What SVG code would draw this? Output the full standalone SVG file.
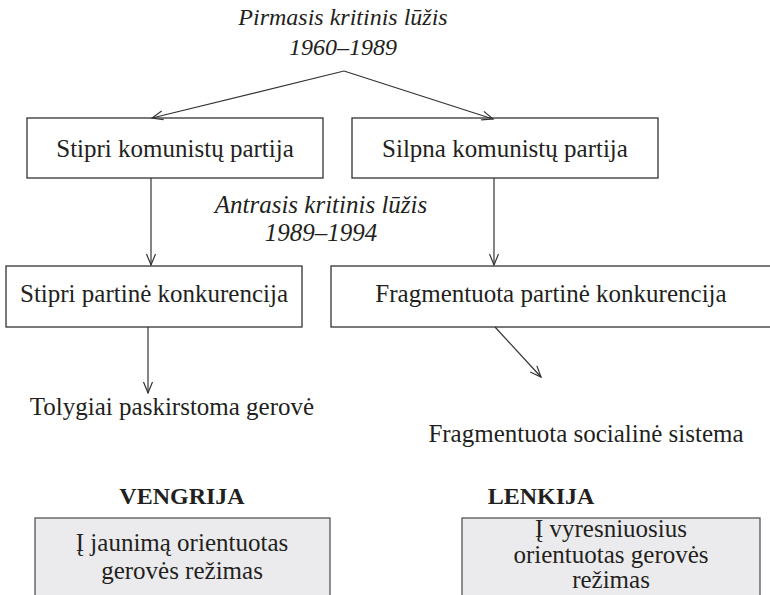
<svg xmlns="http://www.w3.org/2000/svg" width="770" height="595" viewBox="0 0 770 595">
<defs>
<style>
text{font-family:"Liberation Serif","Times New Roman",serif;fill:#231f20;text-anchor:middle}
.t{font-size:25px}
.i{font-size:24px;font-style:italic}
.i2{font-size:25px;font-style:italic}
.b{font-size:24px;font-weight:bold}
.box{fill:#fff;stroke:#333;stroke-width:1.3}
.gbox{fill:#ebebed;stroke:#555;stroke-width:1.3}
.c{fill:none;stroke:#333;stroke-width:1.2;marker-end:url(#arr)}
</style>
<marker id="arr" viewBox="-12 -6 14 12" markerWidth="14" markerHeight="12" refX="0" refY="0" orient="auto" markerUnits="userSpaceOnUse">
<path d="M-11,-4.5 L0,0 L-11,4.5" fill="none" stroke="#333" stroke-width="1.2"/>
</marker>
</defs>
<rect width="770" height="595" fill="#fff"/>
<g id="crit1">
<text class="i" x="343" y="25">Pirmasis kritinis lūžis</text>
<text class="i" x="343" y="55">1960–1989</text>
</g>
<g id="crit2">
<text class="i2" x="321" y="213">Antrasis kritinis lūžis</text>
<text class="i2" x="321" y="241">1989–1994</text>
</g>
<g id="strong-cp">
<rect class="box" x="27" y="118" width="296" height="60"/>
<text class="t" x="175" y="157">Stipri komunistų partija</text>
</g>
<g id="weak-cp">
<rect class="box" x="352" y="118" width="306" height="60"/>
<text class="t" x="505" y="157">Silpna komunistų partija</text>
</g>
<g id="strong-comp">
<rect class="box" x="6" y="266" width="296" height="61"/>
<text class="t" x="154" y="302">Stipri partinė konkurencija</text>
</g>
<g id="frag-comp">
<rect class="box" x="331" y="266" width="445" height="61"/>
<text class="t" x="551" y="302">Fragmentuota partinė konkurencija</text>
</g>
<g id="even-welfare">
<text class="t" x="172" y="415">Tolygiai paskirstoma gerovė</text>
</g>
<g id="frag-social">
<text class="t" x="586" y="442">Fragmentuota socialinė sistema</text>
</g>
<g id="hungary">
<text class="b" x="182" y="504">VENGRIJA</text>
<rect class="gbox" x="35" y="518" width="295" height="90"/>
<text class="t" x="182" y="551">Į jaunimą orientuotas</text>
<text class="t" x="182" y="579">gerovės režimas</text>
</g>
<g id="poland">
<text class="b" x="541" y="504">LENKIJA</text>
<rect class="gbox" x="462" y="518" width="298" height="90"/>
<text class="t" x="611" y="537">Į vyresniuosius</text>
<text class="t" x="611" y="563">orientuotas gerovės</text>
<text class="t" x="611" y="588">režimas</text>
</g>
<g id="connectors">
<path class="c" d="M344,71 L152,118"/>
<path class="c" d="M344,71 L493,119"/>
<path class="c" d="M151,178 L151,265"/>
<path class="c" d="M494,178 L494,265"/>
<path class="c" d="M148,327 L148,393"/>
<path class="c" d="M495,327 L541,377"/>
</g>
</svg>
